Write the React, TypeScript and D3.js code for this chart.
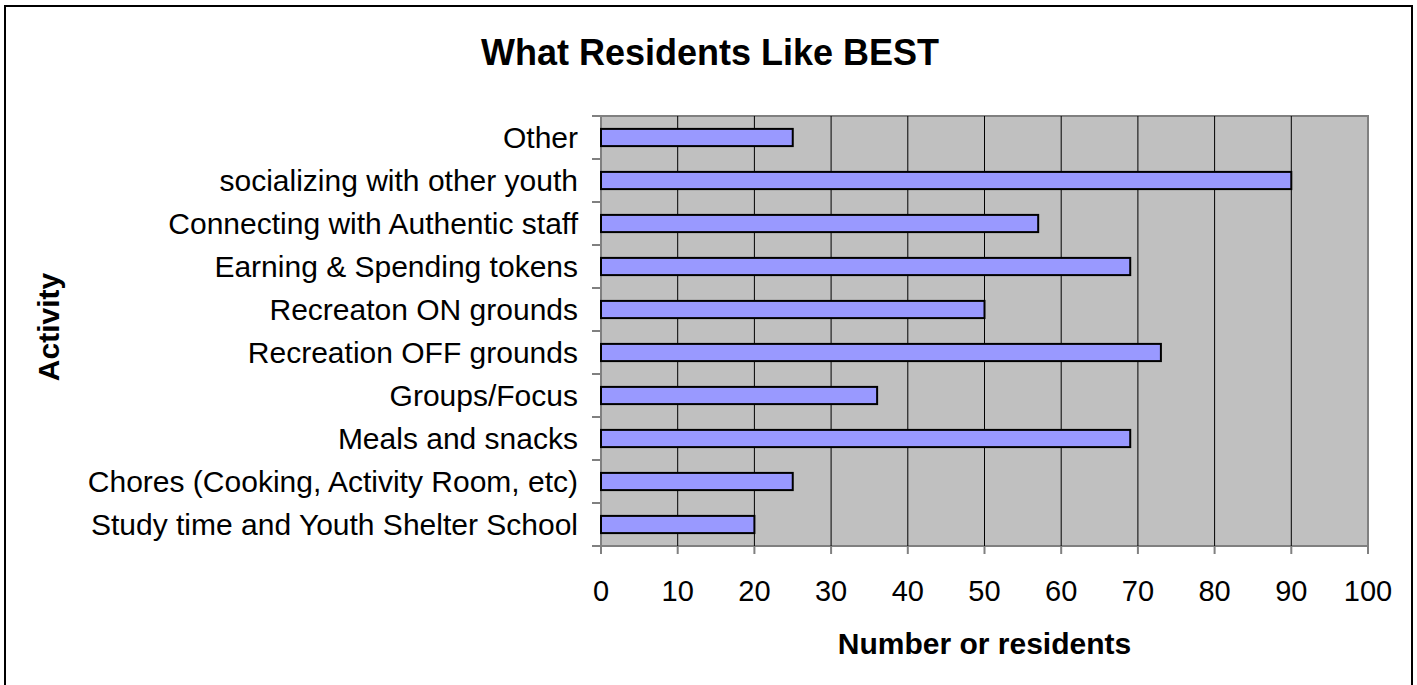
import React from "react";
import * as d3 from "d3";

const categories = [
  "Other",
  "socializing with other youth",
  "Connecting with Authentic staff",
  "Earning & Spending tokens",
  "Recreaton ON grounds",
  "Recreation OFF grounds",
  "Groups/Focus",
  "Meals and snacks",
  "Chores (Cooking, Activity Room, etc)",
  "Study time and Youth Shelter School",
];
const values = [25, 90, 57, 69, 50, 73, 36, 69, 25, 20];
const xTicks = [0, 10, 20, 30, 40, 50, 60, 70, 80, 90, 100];

const W = 1417;
const H = 685;
const plot = { left: 601, right: 1368, top: 116, bottom: 546 };
const FONT = "Liberation Sans, Arial, sans-serif";

export default function App() {
  const x = d3.scaleLinear().domain([0, 100]).range([plot.left, plot.right]);
  const y = d3
    .scaleBand<string>()
    .domain(categories)
    .range([plot.top, plot.bottom])
    .paddingInner(0.6)
    .paddingOuter(0.3);
  const band = (plot.bottom - plot.top) / categories.length;

  return (
    <div style={{ position: "absolute", left: 0, top: 0 }}>
      <svg width={W} height={H} style={{ display: "block" }}>
        <rect x={0} y={0} width={W} height={H} fill="#fff" />
        <rect x={5} y={6} width={1407} height={700} fill="none" stroke="#000" strokeWidth={2} />
        <text x={710} y={65} textAnchor="middle" fontFamily={FONT} fontWeight="bold" fontSize={36}>
          What Residents Like BEST
        </text>
        <rect
          x={plot.left}
          y={plot.top}
          width={plot.right - plot.left}
          height={plot.bottom - plot.top}
          fill="#C0C0C0"
          stroke="#808080"
          strokeWidth={2}
        />
        {xTicks.slice(1, -1).map((t) => (
          <line key={"g" + t} x1={x(t)} x2={x(t)} y1={plot.top} y2={plot.bottom} stroke="#000" strokeWidth={1} />
        ))}
        {d3.range(categories.length + 1).map((i) => (
          <line
            key={"yt" + i}
            x1={plot.left - 9}
            x2={plot.left}
            y1={plot.top + i * band}
            y2={plot.top + i * band}
            stroke="#808080"
            strokeWidth={2}
          />
        ))}
        {xTicks.map((t) => (
          <line key={"xt" + t} x1={x(t)} x2={x(t)} y1={plot.bottom} y2={plot.bottom + 8} stroke="#808080" strokeWidth={2} />
        ))}
        {categories.map((c, i) => (
          <rect
            key={c}
            x={x(0)}
            y={y(c)}
            width={x(values[i]) - x(0)}
            height={y.bandwidth()}
            fill="#9999FF"
            stroke="#000"
            strokeWidth={2}
          />
        ))}
        {categories.map((c) => (
          <text
            key={"l" + c}
            x={578}
            y={(y(c) as number) + y.bandwidth() / 2}
            dy="0.36em"
            textAnchor="end"
            fontFamily={FONT}
            fontSize={30}
          >
            {c}
          </text>
        ))}
        {xTicks.map((t) => (
          <text key={"xl" + t} x={x(t)} y={601} textAnchor="middle" fontFamily={FONT} fontSize={29}>
            {t}
          </text>
        ))}
        <text
          x={(plot.left + plot.right) / 2}
          y={654}
          textAnchor="middle"
          fontFamily={FONT}
          fontWeight="bold"
          fontSize={30}
        >
          Number or residents
        </text>
        <text
          transform="translate(59, 327) rotate(-90)"
          textAnchor="middle"
          fontFamily={FONT}
          fontWeight="bold"
          fontSize={30}
        >
          Activity
        </text>
      </svg>
    </div>
  );
}
